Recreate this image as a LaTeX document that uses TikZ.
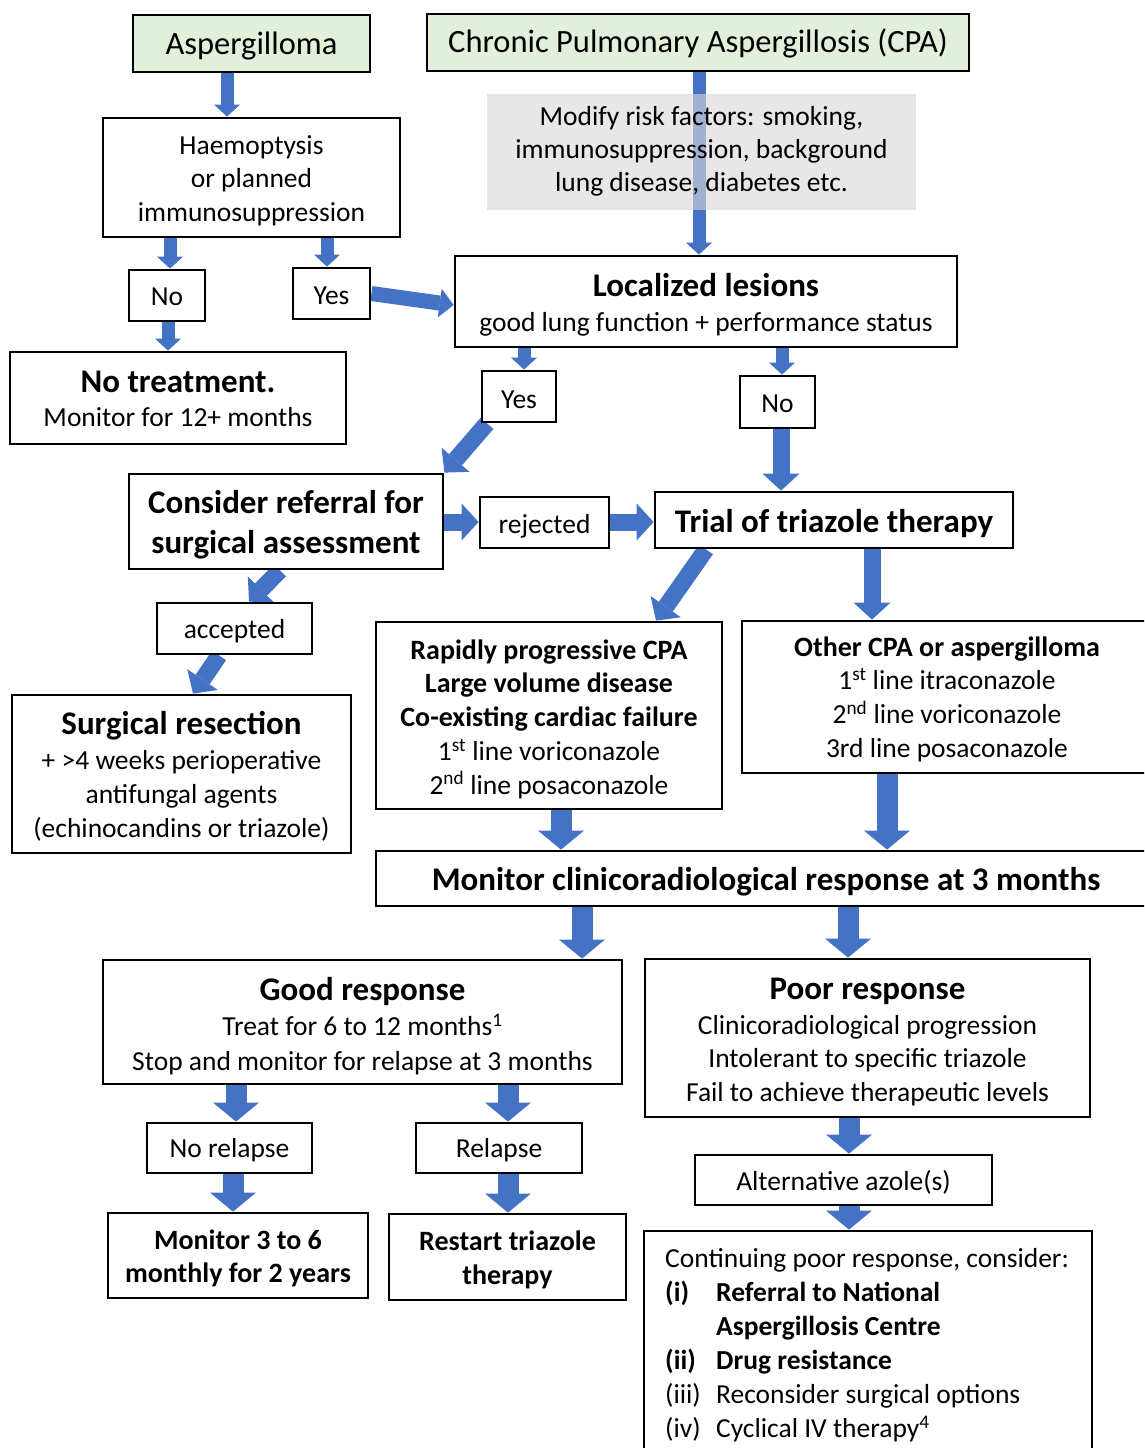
\documentclass[tikz,border=0pt]{standalone}
\usepackage{fontspec}
\setmainfont{Carlito}
\usetikzlibrary{arrows.meta}
\pgfdeclarelayer{bg}
\pgfsetlayers{bg,main}
\definecolor{ablue}{HTML}{4472C4}
\definecolor{lgreen}{HTML}{E2EFDA}
\definecolor{lgrey}{HTML}{D9D9D9}
\newcommand{\ttlf}{\fontsize{33}{40}\selectfont\bfseries}
\newcommand{\sbff}{\fontsize{28}{33.7}\selectfont\bfseries}
\newcommand{\bodyf}{\fontsize{27.5}{33.7}\selectfont}
\newcommand{\headf}{\fontsize{32.5}{38}\selectfont}
\tikzset{
  bx/.style={draw, line width=2.8pt, fill=white, inner sep=0pt},
  gbox/.style={bx, fill=lgreen},
  tx/.style={align=center, font=\bodyf, inner sep=0pt, yshift=-3pt},
  graybox/.style={fill=lgrey, fill opacity=0.62, text opacity=1, inner sep=0pt, align=center, font=\fontsize{27.5}{33}\selectfont},
  arrS/.style={draw=ablue, line width=13pt, -{Triangle[width=26pt,length=12pt,line width=0pt]}},
  arrY/.style={draw=ablue, line width=15pt, -{Triangle[width=29pt,length=14pt,line width=0pt]}},
  arrM/.style={draw=ablue, line width=17pt, -{Triangle[width=37pt,length=17pt,line width=0pt]}},
  arrL/.style={draw=ablue, line width=21pt, -{Triangle[width=46pt,length=19pt,line width=0pt]}}
}
\begin{document}
\begin{tikzpicture}[x=1pt,y=-1pt]
\useasboundingbox (0,0) rectangle (1144,1448);
\clip (0,0) rectangle (1144,1448);

% top row
\node[gbox, minimum width=237pt, minimum height=57pt,
  label={[tx, name=aspt, font=\headf]center:Aspergilloma}] (asp) at (251.5,43.5) {};
\node[gbox, minimum width=542pt, minimum height=57pt,
  label={[tx, name=cpat, font=\headf, yshift=2pt]center:{Chronic Pulmonary Aspergillosis (CPA)}}] (cpa) at (698,42.5) {};
\node[graybox, minimum width=429pt, minimum height=116pt] (risk) at (701.5,151.5) {Modify risk factors: smoking,\\ immunosuppression, background\\ lung disease, diabetes etc.};

\node[bx, minimum width=297pt, minimum height=119pt,
  label={[tx, name=haemt]center:{Haemoptysis\\ or planned\\ immunosuppression}}] (haem) at (251.5,177.5) {};
\node[bx, minimum width=76pt, minimum height=51pt,
  label={[tx, name=no1t, yshift=2pt]center:No}] (no1) at (167,295.5) {};
\node[bx, minimum width=77pt, minimum height=51pt,
  label={[tx, name=yes1t, yshift=1pt]center:Yes}] (yes1) at (331.5,293.5) {};
\node[bx, minimum width=336pt, minimum height=92pt,
  label={[tx, name=notreatt, yshift=2pt]center:{{\ttlf No treatment.}\\ Monitor for 12+ months}}] (notreat) at (178,398) {};
\node[bx, minimum width=502pt, minimum height=91pt,
  label={[tx, name=loct]center:{{\ttlf Localized lesions}\\[1pt] good lung function + performance status}}] (loc) at (706,301.5) {};
\node[bx, minimum width=74pt, minimum height=51pt,
  label={[tx, name=yes2t]center:Yes}] (yes2) at (519,396.5) {};
\node[bx, minimum width=75pt, minimum height=52pt,
  label={[tx, name=no2t, yshift=1pt]center:No}] (no2) at (777.5,402) {};

\node[bx, minimum width=314pt, minimum height=95pt,
  label={[tx, name=considert, font=\ttlf]center:{Consider referral for\\ surgical assessment}}] (consider) at (286,521.5) {};
\node[bx, minimum width=129pt, minimum height=51pt,
  label={[tx, name=rejectedt, yshift=-1pt]center:rejected}] (rejected) at (544.5,522.5) {};
\node[bx, minimum width=358pt, minimum height=56pt,
  label={[tx, name=trialt, font=\ttlf, yshift=-1pt]center:{Trial of triazole therapy}}] (trial) at (834,520) {};
\node[bx, minimum width=155pt, minimum height=51pt,
  label={[tx, name=acceptedt]center:accepted}] (accepted) at (234.5,628.5) {};
\node[bx, minimum width=339pt, minimum height=158pt,
  label={[tx, name=surgt, yshift=1pt]center:{{\ttlf Surgical resection}\\[2pt] + >4 weeks perioperative\\ antifungal agents\\ (echinocandins or triazole)}}] (surg) at (181.5,774) {};
\node[bx, minimum width=346pt, minimum height=187pt,
  label={[tx, name=rapidt, yshift=-0.5pt]center:{{\sbff Rapidly progressive CPA}\\ {\sbff Large volume disease}\\ {\sbff Co-existing cardiac failure}\\ 1\textsuperscript{st} line voriconazole\\ 2\textsuperscript{nd} line posaconazole}}] (rapid) at (549,715.5) {};
\node[bx, minimum width=410pt, minimum height=152pt,
  label={[tx, name=othert, yshift=1pt]center:{{\sbff Other CPA or aspergilloma}\\ 1\textsuperscript{st} line itraconazole\\ 2\textsuperscript{nd} line voriconazole\\ 3rd line posaconazole}}] (other) at (947,697) {};
\node[bx, minimum width=780pt, minimum height=55pt,
  label={[tx, name=mont, font=\ttlf]center:{Monitor clinicoradiological response at 3 months}}] (mon) at (766,878.5) {};

\node[bx, minimum width=519pt, minimum height=124pt,
  label={[tx, name=goodt, yshift=-1pt]center:{{\ttlf Good response}\\[1pt] Treat for 6 to 12 months\textsuperscript{1}\\[1pt] Stop and monitor for relapse at 3 months}}] (good) at (362.5,1022) {};
\node[bx, minimum width=445pt, minimum height=158pt,
  label={[tx, name=poort, yshift=-1pt]center:{{\ttlf Poor response}\\[1pt] Clinicoradiological progression\\ Intolerant to specific triazole\\ Fail to achieve therapeutic levels}}] (poor) at (867.5,1038) {};
\node[bx, minimum width=165pt, minimum height=50pt,
  label={[tx, name=norelt, yshift=1pt]center:{No relapse}}] (norel) at (229.5,1148) {};
\node[bx, minimum width=166pt, minimum height=50pt,
  label={[tx, name=relt, yshift=1pt]center:Relapse}] (rel) at (499,1148) {};
\node[bx, minimum width=260pt, minimum height=85pt,
  label={[tx, name=mon36t, font=\sbff]center:{Monitor 3 to 6\\ monthly for 2 years}}] (mon36) at (238,1255.5) {};
\node[bx, minimum width=237pt, minimum height=86pt,
  label={[tx, name=restartt, font=\sbff]center:{Restart triazole\\ therapy}}] (restart) at (507.5,1257) {};
\node[bx, minimum width=297pt, minimum height=50pt,
  label={[tx, name=altt, yshift=1pt]center:{Alternative azole(s)}}] (alt) at (843.5,1180) {};
\node[bx, minimum width=448pt, minimum height=229pt] (cont) at (868,1345.5) {};
\node[anchor=north west, inner sep=0pt, align=left, font=\fontsize{27.5}{34}\selectfont] (conttext) at (665,1248) {Continuing poor response, consider:\\
{\bfseries\makebox[51pt][l]{(i)}Referral to National}\\
{\bfseries\makebox[51pt][l]{}Aspergillosis Centre}\\
{\bfseries\makebox[51pt][l]{(ii)}Drug resistance}\\
\makebox[51pt][l]{(iii)}Reconsider surgical options\\
\makebox[51pt][l]{(iv)}Cyclical IV therapy\textsuperscript{4}};

\begin{pgfonlayer}{bg}
\fill[white] (0,0) rectangle (1144,1448);
\draw[arrS] (227,0 |- asp.south) -- (227,0 |- haem.north);
\draw[arrS] (699,0 |- cpa.south) -- (699,0 |- loc.north);
\draw[arrS] (170,0 |- haem.south) -- (170,0 |- no1.north);
\draw[arrS] (327,0 |- haem.south) -- (327,0 |- yes1.north);
\draw[arrS] (168,0 |- no1.south) -- (168,0 |- notreat.north);
\draw[arrY] (yes1.east) -- (loc.west |- 0,305);
\draw[arrS] (524,0 |- loc.south) -- (524,0 |- yes2.north);
\draw[arrS] (782,0 |- loc.south) -- (782,0 |- no2.north);
\draw[arrM] (781,0 |- no2.south) -- (781,0 |- trial.north);
\draw[arrM] (487,0 |- yes2.south) -- (consider.north east);
\draw[arrM] (consider.east |- 0,522) -- (rejected.west |- 0,522);
\draw[arrM] (rejected.east |- 0,522) -- (trial.west |- 0,522);
\draw[arrM] (280,0 |- consider.south) -- (249,0 |- accepted.north);
\draw[arrM] (219,0 |- accepted.south) -- (193,0 |- surg.north);
\draw[arrM] (706,0 |- trial.south) -- (656,0 |- rapid.north);
\draw[arrM] (872,0 |- trial.south) -- (872,0 |- other.north);
\draw[arrL] (561,0 |- rapid.south) -- (561,0 |- mon.north);
\draw[arrL] (887,0 |- other.south) -- (887,0 |- mon.north);
\draw[arrL] (582,0 |- mon.south) -- (582,0 |- good.north);
\draw[arrL] (848,0 |- mon.south) -- (848,0 |- poor.north);
\draw[arrL] (236,0 |- good.south) -- (236,0 |- norel.north);
\draw[arrL] (508,0 |- good.south) -- (508,0 |- rel.north);
\draw[arrL] (233,0 |- norel.south) -- (233,0 |- mon36.north);
\draw[arrL] (508,0 |- rel.south) -- (508,0 |- restart.north);
\draw[arrL] (849,0 |- poor.south) -- (849,0 |- alt.north);
\draw[arrL] (849,0 |- alt.south) -- (849,0 |- cont.north);
\end{pgfonlayer}
\end{tikzpicture}
\end{document}
